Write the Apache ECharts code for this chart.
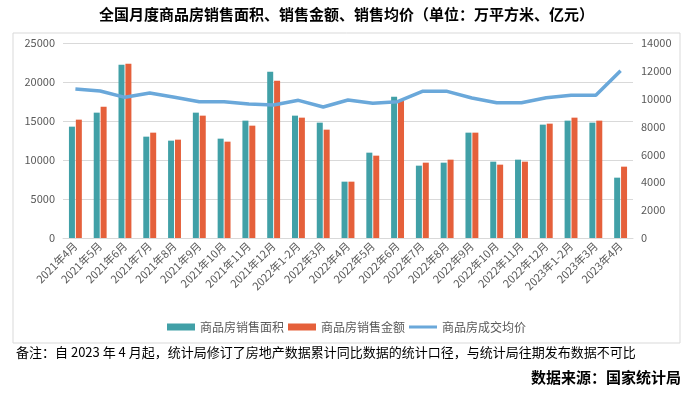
<!DOCTYPE html>
<html><head><meta charset="utf-8">
<script src="https://cdn.jsdelivr.net/npm/echarts@6/dist/echarts.min.js"></script>
<style>html,body{margin:0;padding:0;background:#fff}#c{width:693px;height:395px}</style>
</head><body><div id="c"></div>
<script>
const categories = ['2021年4月','2021年5月','2021年6月','2021年7月','2021年8月','2021年9月','2021年10月','2021年11月','2021年12月','2022年1-2月','2022年3月','2022年4月','2022年5月','2022年6月','2022年7月','2022年8月','2022年9月','2022年10月','2022年11月','2022年12月','2023年1-2月','2023年3月','2023年4月'];
const salesArea = [14275,16070,22225,12993,12480,16070,12737,15045,21327,15686,14788,7223,10941,18122,9275,9659,13506,9787,10044,14532,15045,14788,7736];
const salesAmount = [15173,16840,22353,13506,12608,15686,12352,14403,20173,15429,13890,7223,10557,17652,9659,10044,13506,9403,9787,14660,15429,15045,9146];
const avgPrice = [10697,10553,10099,10410,10099,9787,9787,9620,9548,9883,9404,9907,9668,9787,10529,10529,10051,9716,9716,10075,10242,10242,12013];
const seriesNames = ['商品房销售面积','商品房销售金额','商品房成交均价'];
const titleText = '全国月度商品房销售面积、销售金额、销售均价（单位：万平方米、亿元）';
const noteText = '备注：自 2023 年 4 月起，统计局修订了房地产数据累计同比数据的统计口径，与统计局往期发布数据不可比';
const sourceText = '数据来源：国家统计局';

const FONT = '"Noto Sans CJK SC", sans-serif';
const chart = echarts.init(document.getElementById('c'));
chart.setOption({
  animation: false,
  textStyle: {fontFamily: FONT},
  title: {text: titleText, left: 'center', top: 2,
    textStyle: {fontSize: 15, fontWeight: 'bold', color: '#000', fontFamily: FONT}},
  graphic: [
    {type: 'rect', shape: {x: 13, y: 33, width: 667, height: 310},
      style: {fill: 'none', stroke: '#d9d9d9', lineWidth: 1}, silent: true},
    {type: 'text', left: 16, top: 346, style: {text: noteText, fontSize: 13, fill: '#000', fontFamily: FONT}},
    {type: 'text', right: 12, top: 370, style: {text: sourceText, fontSize: 15, fontWeight: 'bold', fill: '#000', fontFamily: FONT}}
  ],
  legend: {
    top: 316, left: 'center', itemGap: 4, itemWidth: 28, itemHeight: 7,
    textStyle: {fontSize: 12, color: '#595959', fontFamily: FONT},
    data: [
      {name: seriesNames[0], icon: 'rect'},
      {name: seriesNames[1], icon: 'rect'},
      {name: seriesNames[2], icon: 'path://M0,0L0.01,0M0,2L28,2L28,5L0,5ZM27.99,7L28,7'}
    ]
  },
  grid: {left: 63, right: 60, top: 43, bottom: 157},
  xAxis: {
    type: 'category', data: categories,
    axisLine: {lineStyle: {color: '#d9d9d9'}},
    axisTick: {show: false},
    axisLabel: {rotate: 45, interval: 0, fontSize: 11, color: '#595959', margin: 6, fontFamily: FONT}
  },
  yAxis: [
    {type: 'value', min: 0, max: 25000, interval: 5000,
      axisLine: {show: false}, axisTick: {show: false},
      axisLabel: {fontSize: 11, color: '#595959', margin: 8, fontFamily: FONT, formatter: v => String(v)},
      splitLine: {lineStyle: {color: '#d9d9d9'}}},
    {type: 'value', min: 0, max: 14000, interval: 2000,
      axisLine: {show: false}, axisTick: {show: false},
      axisLabel: {fontSize: 11, color: '#595959', margin: 8, fontFamily: FONT, formatter: v => String(v)},
      splitLine: {show: false}}
  ],
  series: [
    {name: seriesNames[0], type: 'bar', data: salesArea, barWidth: 6, barGap: '15%',
      itemStyle: {color: '#41A0A7'}},
    {name: seriesNames[1], type: 'bar', data: salesAmount, barWidth: 6,
      itemStyle: {color: '#E5603B'}},
    {name: seriesNames[2], type: 'line', yAxisIndex: 1, data: avgPrice, symbol: 'none',
      lineStyle: {color: '#6AA8DA', width: 3.5}, itemStyle: {color: '#6AA8DA'}}
  ]
});
</script></body></html>
